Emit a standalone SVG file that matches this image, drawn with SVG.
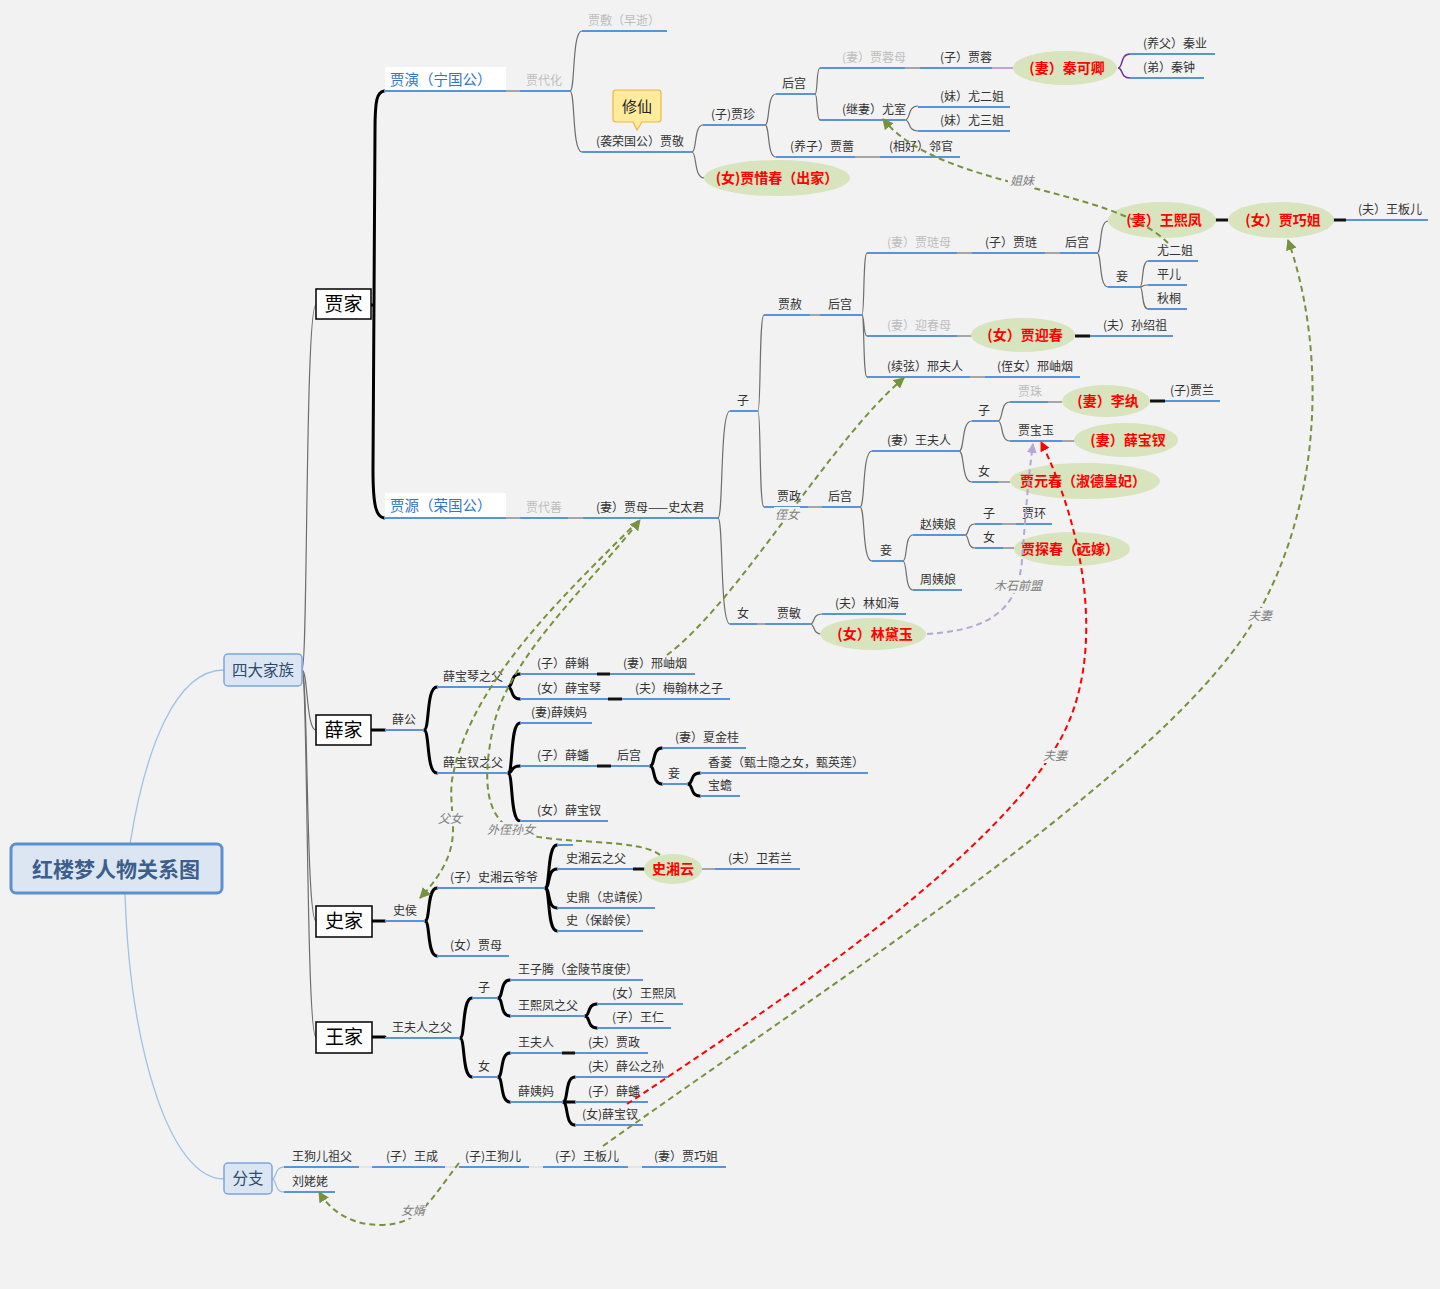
<svg xmlns="http://www.w3.org/2000/svg" width="1440" height="1289" viewBox="0 0 1440 1289">
<defs>
<style>
text{font-family:"Noto Sans CJK SC","Noto Sans",sans-serif;font-size:12px;fill:#333}
.g{fill:#bdbdbd}
.h{font-size:14.5px;fill:#2e75c8}
.r{font-size:14px;font-weight:bold;fill:#ff0000}
.fam{font-size:19px;fill:#000}
.lab{font-style:italic;fill:#808080}
.u{stroke:#5b93d9;stroke-width:2;fill:none}
.gl{stroke:#a6a6a6;stroke-width:2;fill:none}
.wl{stroke:#e4e4e4;stroke-width:2;fill:none}
.bk{stroke:#111;stroke-width:3;fill:none}
.c{stroke:#6e6e6e;stroke-width:1.2;fill:none}
.k{stroke:#000;stroke-width:3;fill:none;stroke-linecap:round}
.lbr{stroke:#9dc3e6;stroke-width:1.3;fill:none}
.e{fill:#d7e4bd}
.fb{fill:#fff;stroke:#000;stroke-width:1.5}
.dg{stroke:#76923c;stroke-width:2;stroke-dasharray:6 4;fill:none;marker-end:url(#ag)}
.dr{stroke:#ff0000;stroke-width:2;stroke-dasharray:6 4;fill:none;marker-end:url(#ar)}
.dp{stroke:#b4a7d6;stroke-width:2;stroke-dasharray:6 4;fill:none;marker-end:url(#ap)}
.lb{fill:#f2f2f2}
</style>
<marker id="ag" viewBox="0 0 10 10" refX="9" refY="5" markerWidth="11" markerHeight="11" markerUnits="userSpaceOnUse" orient="auto"><path d="M0,0 L10,5 L0,10 z" fill="#76923c"/></marker>
<marker id="ar" viewBox="0 0 10 10" refX="9" refY="5" markerWidth="10" markerHeight="10" markerUnits="userSpaceOnUse" orient="auto"><path d="M0,0 L10,5 L0,10 z" fill="#ff0000"/></marker>
<marker id="ap" viewBox="0 0 10 10" refX="9" refY="5" markerWidth="10" markerHeight="10" markerUnits="userSpaceOnUse" orient="auto"><path d="M0,0 L10,5 L0,10 z" fill="#b4a7d6"/></marker>
</defs>
<rect width="1440" height="1289" fill="#f2f2f2"/>

<g id="connectors">
<path class="lbr" d="M130,844 C145,750 175,670 224,670"/>
<path class="lbr" d="M125,893 C130,1050 170,1179 224,1179"/>
<path class="c" d="M302,670 C308,670 305,305 316,305"/>
<path class="c" d="M302,670 C308,670 306,730 316,730"/>
<path class="c" d="M302,670 C308,670 306,921 316,921"/>
<path class="c" d="M302,670 C308,670 306,1037 316,1037"/>
<path class="lbr" d="M272,1179 C277,1179 274,1167 284,1167 M272,1179 C277,1179 274,1192 284,1192"/>
<path class="k" d="M384,91 C377,92 375,100 375,130 L373,470 C373,505 376,517 384,518 M371,305 H374"/>
<path class="c" d="M570,91 C575.4,91 571.8,31 582,31 M570,91 C575.4,91 571.8,152 582,152"/>
<path class="c" d="M692,152 C697,152 693.7,125 703,125 M692,152 C697,152 693.7,178 704,178"/>
<path class="c" d="M765,125 C770,125 766.7,94 776,94 M765,125 C770,125 766.7,157 776,157"/>
<path class="c" d="M815,94 C818,94 816,68 820,68 M815,94 C818,94 816,120 820,120"/>
<path class="c" d="M905,120 C910.9,120 907,106 918,106 M905,120 C910.9,120 907,131 918,131"/>
<path d="M1118,68 C1123.4,68 1119.8,54 1130,54 M1118,68 C1123.4,68 1119.8,78 1130,78" stroke="#7030a0" stroke-width="1.5" fill="none"/>
<path class="c" d="M718,518 C723.4,518 719.8,411 730,411 M718,518 C723.4,518 719.8,624 730,624"/>
<path class="c" d="M758,411 C761,411 759,315 764,315 M758,411 C761,411 759,507 764,507"/>
<path class="c" d="M862,315 C864.5,315 863,253 867,253 M862,315 C864.5,315 863,336 867,336 M862,315 C864.5,315 863,377 867,377"/>
<path class="c" d="M1097,253 C1102,253 1098.7,221 1108,221 M1097,253 C1102,253 1098.7,287 1108,287"/>
<path class="c" d="M1140,287 C1143.6,287 1141.2,261 1148,261 M1140,287 C1143.6,287 1141.2,285 1148,285 M1140,287 C1143.6,287 1141.2,309 1148,309"/>
<path class="c" d="M860,507 C865.4,507 861.8,451 872,451 M860,507 C865.4,507 861.8,561 872,561"/>
<path class="c" d="M959,451 C964.9,451 961,421 972,421 M959,451 C964.9,451 961,482 972,482"/>
<path class="c" d="M998,421 C1003.4,421 999.8,402 1010,402 M998,421 C1003.4,421 999.8,441 1010,441"/>
<path class="c" d="M903,561 C907.5,561 904.5,535 913,535 M903,561 C907.5,561 904.5,590 913,590"/>
<path class="c" d="M965,535 C969.5,535 966.5,524 975,524 M965,535 C969.5,535 966.5,548 975,548"/>
<path class="c" d="M810,624 C815.4,624 811.8,614 822,614 M810,624 C815.4,624 811.8,634 822,634"/>
<path class="k" d="M371,730 H385 M372,921 H385 M372,1037 H385"/>
<path class="k" d="M424,730 C429.9,730 426,687 437,687 M424,730 C429.9,730 426,773 437,773"/>
<path class="k" d="M508,687 C513.4,687 509.8,674 520,674 M508,687 C513.4,687 509.8,699 520,699"/>
<path class="k" d="M508,773 C513.4,773 509.8,723 520,723 M508,773 C513.4,773 509.8,766 520,766 M508,773 C513.4,773 509.8,821 520,821"/>
<path class="k" d="M650,766 C655.4,766 651.8,748 662,748 M650,766 C655.4,766 651.8,784 662,784"/>
<path class="k" d="M688,784 C693.4,784 689.8,773 700,773 M688,784 C693.4,784 689.8,796 700,796"/>
<path class="k" d="M425,921 C430.4,921 426.8,888 437,888 M425,921 C430.4,921 426.8,956 437,956"/>
<path class="k" d="M545,888 C550.4,888 546.8,845 557,845 M545,888 C550.4,888 546.8,869 557,869 M545,888 C550.4,888 546.8,908 557,908 M545,888 C550.4,888 546.8,931 557,931"/>
<path class="k" d="M460,1038 C465.4,1038 461.8,998 472,998 M460,1038 C465.4,1038 461.8,1077 472,1077"/>
<path class="k" d="M498,998 C503.4,998 499.8,980 510,980 M498,998 C503.4,998 499.8,1016 510,1016"/>
<path class="k" d="M585,1016 C590.4,1016 586.8,1004 597,1004 M585,1016 C590.4,1016 586.8,1028 597,1028"/>
<path class="k" d="M498,1077 C503.4,1077 499.8,1053 510,1053 M498,1077 C503.4,1077 499.8,1102 510,1102"/>
<path class="k" d="M563,1102 C568.4,1102 564.8,1077 575,1077 M563,1102 C568.4,1102 564.8,1102 575,1102 M563,1102 C568.4,1102 564.8,1125 575,1125"/>
<path class="gl" d="M506,91 H520 M855,157 H880 M905,68 H920 M957,253 H972 M1045,253 H1060 M957,336 H972 M970,377 H985 M506,518 H520 M568,518 H583 M757,624 H765 M810,315 H820 M808,507 H822 M1048,402 H1062 M1062,441 H1076 M998,482 H1010 M1002,524 H1016 M1003,548 H1014 M702,869 H715"/>
<path d="M992,68 H1013" stroke="#c9a0dc" stroke-width="2"/>
<path class="bk" d="M1215,220 H1228 M1333,220 H1346 M1075,336 H1090 M1150,401 H1165 M597,674 H610 M608,699 H622 M597,766 H611 M633,869 H646 M562,1053 H575"/>
<path class="wl" d="M359,1167 H372 M445,1167 H459 M529,1167 H543 M628,1167 H642"/>
<path class="u" d="M557,845 H573"/>
</g>

<g id="root"><rect x="11" y="844" width="211" height="49" rx="5" fill="#dce6f2" stroke="#5b8fd0" stroke-width="3"/><text x="116" y="877" text-anchor="middle" style="font-size:21px;font-weight:bold;fill:#3b5e8c">红楼梦人物关系图</text></g>
<g id="sidajiazu"><rect x="224" y="654" width="78" height="32" rx="4" fill="#dce6f2" stroke="#7ea6dc" stroke-width="1.5"/><text x="263" y="676" text-anchor="middle" style="font-size:15.5px;fill:#2f4a6d">四大家族</text></g>
<g id="fenzhi"><rect x="224" y="1163" width="48" height="31" rx="4" fill="#dce6f2" stroke="#7ea6dc" stroke-width="1.5"/><text x="248" y="1184" text-anchor="middle" style="font-size:15.5px;fill:#2f4a6d">分支</text></g>

<g id="jiajia"><rect class="fb" x="316" y="289" width="55" height="30"/><text class="fam" x="343.5" y="311" text-anchor="middle">贾家</text></g>
<g id="xuejia"><rect class="fb" x="316" y="715" width="55" height="30"/><text class="fam" x="343.5" y="737" text-anchor="middle">薛家</text></g>
<g id="shijia"><rect class="fb" x="316" y="906" width="56" height="31"/><text class="fam" x="344" y="928" text-anchor="middle">史家</text></g>
<g id="wangjia"><rect class="fb" x="316" y="1022" width="56" height="31"/><text class="fam" x="344" y="1044" text-anchor="middle">王家</text></g>

<g id="jiayan"><rect x="385" y="67" width="121" height="24" fill="#fff"/><text class="h" x="390" y="85">贾演（宁国公）</text><path class="u" d="M384,91 H506" stroke-width="1.5"/></g>
<g id="jiafu"><text class="g" x="588" y="25">贾敷（早逝）</text><path class="u" d="M582,31 H667"/></g>
<g id="jiadaihua"><text class="g" x="526" y="85">贾代化</text><path class="u" d="M520,91 H570"/></g>
<g id="jiajing"><text x="596" y="146">(袭荣国公）贾敬</text><path class="u" d="M582,152 H692"/></g>
<g id="xiuxian"><path d="M616,90 H658 Q661,90 661,93 V119 Q661,122 658,122 H642 L637,130 L633,122 H616 Q613,122 613,119 V93 Q613,90 616,90 Z" fill="#ffeb9c" stroke="#f0b440" stroke-width="1.2"/><text x="637" y="112" text-anchor="middle" style="font-size:15px;fill:#222">修仙</text></g>
<g id="jiazhen"><text x="711" y="119">(子)贾珍</text><path class="u" d="M703,125 H765"/></g>
<g id="xichun"><ellipse class="e" cx="777" cy="178" rx="73" ry="18"/><text class="r" x="777" y="183" text-anchor="middle">(女)贾惜春（出家）</text></g>
<g id="hougong1"><text x="782" y="88">后宫</text><path class="u" d="M776,94 H815"/></g>
<g id="jiaqiang"><text x="790" y="151">(养子）贾蔷</text><path class="u" d="M776,157 H855"/></g>
<g id="lingguan"><text x="889" y="151">(相好）邻官</text><path class="u" d="M880,157 H960"/></g>
<g id="jiarongmu"><text class="g" x="842" y="62">(妻）贾蓉母</text><path class="u" d="M820,68 H905"/></g>
<g id="jiarong"><text x="940" y="62">(子）贾蓉</text><path class="u" d="M920,68 H992"/></g>
<g id="qinkeqing"><ellipse class="e" cx="1065" cy="68" rx="52" ry="17"/><text class="r" x="1067" y="73" text-anchor="middle">(妻）秦可卿</text></g>
<g id="qinye"><text x="1143" y="48">(养父）秦业</text><path class="u" d="M1130,54 H1215"/></g>
<g id="qinzhong"><text x="1143" y="72">(弟）秦钟</text><path class="u" d="M1130,78 H1204"/></g>
<g id="youshi"><text x="842" y="114">(继妻）尤室</text><path class="u" d="M820,120 H905"/></g>
<g id="youerjie1"><text x="940" y="101">(妹）尤二姐</text><path class="u" d="M918,107 H1010"/></g>
<g id="yousanjie"><text x="940" y="125">(妹）尤三姐</text><path class="u" d="M918,131 H1010"/></g>

<g id="jiayuan"><rect x="385" y="493" width="121" height="24" fill="#fff"/><text class="h" x="390" y="511">贾源（荣国公）</text><path class="u" d="M384,518 H506" stroke-width="1.5"/></g>
<g id="jiadaishan"><text class="g" x="526" y="512">贾代善</text><path class="u" d="M520,518 H568"/></g>
<g id="jiamu1"><text x="596" y="512">(妻）贾母——史太君</text><path class="u" d="M583,518 H718"/></g>
<g id="zi1"><text x="737" y="405">子</text><path class="u" d="M730,411 H758"/></g>
<g id="nv1"><text x="737" y="618">女</text><path class="u" d="M730,624 H757"/></g>
<g id="jiashe"><text x="778" y="309">贾赦</text><path class="u" d="M764,315 H810"/></g>
<g id="hougong2"><text x="828" y="309">后宫</text><path class="u" d="M820,315 H862"/></g>
<g id="jialianmu"><text class="g" x="887" y="247">(妻）贾琏母</text><path class="u" d="M867,253 H957"/></g>
<g id="jialian"><text x="985" y="247">(子）贾琏</text><path class="u" d="M972,253 H1045"/></g>
<g id="hougong3"><text x="1065" y="247">后宫</text><path class="u" d="M1060,253 H1097"/></g>
<g id="wangxifeng1"><ellipse class="e" cx="1162" cy="220" rx="54" ry="18"/><text class="r" x="1164" y="225" text-anchor="middle">(妻）王熙凤</text></g>
<g id="qiaojie1"><ellipse class="e" cx="1281" cy="220" rx="53" ry="18"/><text class="r" x="1283" y="225" text-anchor="middle">(女）贾巧姐</text></g>
<g id="wangbaner1"><text x="1358" y="214">(夫）王板儿</text><path class="u" d="M1346,220 H1428"/></g>
<g id="qie1"><text x="1116" y="281">妾</text><path class="u" d="M1108,287 H1140"/></g>
<g id="youerjie2"><text x="1157" y="255">尤二姐</text><path class="u" d="M1148,261 H1198"/></g>
<g id="pinger"><text x="1157" y="279">平儿</text><path class="u" d="M1148,285 H1187"/></g>
<g id="qiutong"><text x="1157" y="303">秋桐</text><path class="u" d="M1148,309 H1187"/></g>
<g id="yingchunmu"><text class="g" x="887" y="330">(妻）迎春母</text><path class="u" d="M867,336 H957"/></g>
<g id="yingchun"><ellipse class="e" cx="1023" cy="335" rx="52" ry="17"/><text class="r" x="1025" y="340" text-anchor="middle">(女）贾迎春</text></g>
<g id="sunshaozu"><text x="1103" y="330">(夫）孙绍祖</text><path class="u" d="M1090,336 H1173"/></g>
<g id="xingfuren"><text x="887" y="371">(续弦）邢夫人</text><path class="u" d="M867,377 H970"/></g>
<g id="xingxiuyan1"><text x="997" y="371">(侄女）邢岫烟</text><path class="u" d="M985,377 H1080"/></g>
<g id="jiazheng1"><text x="777" y="501">贾政</text><path class="u" d="M764,507 H808"/></g>
<g id="hougong4"><text x="828" y="501">后宫</text><path class="u" d="M822,507 H860"/></g>
<g id="wangfuren1"><text x="887" y="445">(妻）王夫人</text><path class="u" d="M872,451 H959"/></g>
<g id="zi2"><text x="978" y="415">子</text><path class="u" d="M972,421 H998"/></g>
<g id="jiazhu"><text class="g" x="1018" y="396">贾珠</text><path class="u" d="M1010,402 H1048"/></g>
<g id="liwan"><ellipse class="e" cx="1106" cy="401" rx="44" ry="16"/><text class="r" x="1108" y="406" text-anchor="middle">(妻）李纨</text></g>
<g id="jialan"><text x="1170" y="395">(子)贾兰</text><path class="u" d="M1165,401 H1220"/></g>
<g id="baoyu"><text x="1018" y="435">贾宝玉</text><path class="u" d="M1010,441 H1062"/></g>
<g id="baochai1"><ellipse class="e" cx="1126" cy="440" rx="52" ry="17"/><text class="r" x="1128" y="445" text-anchor="middle">(妻）薛宝钗</text></g>
<g id="nv2"><text x="978" y="476">女</text><path class="u" d="M972,482 H998"/></g>
<g id="yuanchun"><ellipse class="e" cx="1085" cy="481" rx="75" ry="18"/><text class="r" x="1083" y="486" text-anchor="middle">贾元春（淑德皇妃）</text></g>
<g id="qie2"><text x="880" y="555">妾</text><path class="u" d="M872,561 H903"/></g>
<g id="zhaoyiniang"><text x="920" y="529">赵姨娘</text><path class="u" d="M913,535 H965"/></g>
<g id="zi3"><text x="983" y="518">子</text><path class="u" d="M975,524 H1002"/></g>
<g id="jiahuan"><text x="1022" y="518">贾环</text><path class="u" d="M1016,524 H1052"/></g>
<g id="nv3"><text x="983" y="542">女</text><path class="u" d="M975,548 H1003"/></g>
<g id="tanchun"><ellipse class="e" cx="1072" cy="549" rx="58" ry="17"/><text class="r" x="1070" y="554" text-anchor="middle">贾探春（远嫁）</text></g>
<g id="zhouyiniang"><text x="920" y="584">周姨娘</text><path class="u" d="M913,590 H962"/></g>
<g id="jiamin"><text x="777" y="618">贾敏</text><path class="u" d="M765,624 H810"/></g>
<g id="linruhai"><text x="835" y="608">(夫）林如海</text><path class="u" d="M822,614 H906"/></g>
<g id="daiyu"><ellipse class="e" cx="873" cy="634" rx="53" ry="16"/><text class="r" x="875" y="639" text-anchor="middle">(女）林黛玉</text></g>

<g id="xuegong"><text x="392" y="724">薛公</text><path class="u" d="M385,730 H424"/></g>
<g id="baoqinfu"><text x="443" y="681">薛宝琴之父</text><path class="u" d="M437,687 H508"/></g>
<g id="baochaifu"><text x="443" y="767">薛宝钗之父</text><path class="u" d="M437,773 H508"/></g>
<g id="xueke"><text x="537" y="668">(子）薛蝌</text><path class="u" d="M520,674 H597"/></g>
<g id="xingxiuyan2"><text x="623" y="668">(妻）邢岫烟</text><path class="u" d="M610,674 H695"/></g>
<g id="baoqin"><text x="537" y="693">(女）薛宝琴</text><path class="u" d="M520,699 H608"/></g>
<g id="meihanlin"><text x="635" y="693">(夫）梅翰林之子</text><path class="u" d="M622,699 H730"/></g>
<g id="xueyima1"><text x="531" y="717">(妻)薛姨妈</text><path class="u" d="M520,723 H592"/></g>
<g id="xuepan1"><text x="537" y="760">(子）薛蟠</text><path class="u" d="M520,766 H597"/></g>
<g id="hougong5"><text x="617" y="760">后宫</text><path class="u" d="M611,766 H650"/></g>
<g id="xiajingui"><text x="675" y="742">(妻）夏金桂</text><path class="u" d="M662,748 H746"/></g>
<g id="qie3"><text x="668" y="778">妾</text><path class="u" d="M662,784 H688"/></g>
<g id="xiangling"><text x="708" y="767">香菱（甄士隐之女，甄英莲）</text><path class="u" d="M700,773 H868"/></g>
<g id="baochan"><text x="708" y="790">宝蟾</text><path class="u" d="M700,796 H740"/></g>
<g id="baochai2"><text x="537" y="815">(女）薛宝钗</text><path class="u" d="M520,821 H608"/></g>

<g id="shihou"><text x="393" y="915">史侯</text><path class="u" d="M385,921 H425"/></g>
<g id="shiyeye"><text x="450" y="882">(子）史湘云爷爷</text><path class="u" d="M437,888 H545"/></g>
<g id="shifu"><text x="566" y="863">史湘云之父</text><path class="u" d="M557,869 H633"/></g>
<g id="xiangyun"><ellipse class="e" cx="673" cy="869" rx="29" ry="15"/><text class="r" x="673" y="874" text-anchor="middle">史湘云</text></g>
<g id="weiruolan"><text x="728" y="863">(夫）卫若兰</text><path class="u" d="M715,869 H800"/></g>
<g id="shiding"><text x="566" y="902">史鼎（忠靖侯）</text><path class="u" d="M557,908 H655"/></g>
<g id="shibaoling"><text x="566" y="925">史（保龄侯）</text><path class="u" d="M557,931 H643"/></g>
<g id="jiamu2"><text x="450" y="950">(女）贾母</text><path class="u" d="M437,956 H509"/></g>

<g id="wangfurenfu"><text x="392" y="1032">王夫人之父</text><path class="u" d="M385,1038 H460"/></g>
<g id="zi4"><text x="478" y="992">子</text><path class="u" d="M472,998 H498"/></g>
<g id="wangziteng"><text x="518" y="974">王子腾（金陵节度使）</text><path class="u" d="M510,980 H643"/></g>
<g id="xifengfu"><text x="518" y="1010">王熙凤之父</text><path class="u" d="M510,1016 H585"/></g>
<g id="wangxifeng2"><text x="612" y="998">(女）王熙凤</text><path class="u" d="M597,1004 H683"/></g>
<g id="wangren"><text x="612" y="1022">(子）王仁</text><path class="u" d="M597,1028 H671"/></g>
<g id="nv4"><text x="478" y="1071">女</text><path class="u" d="M472,1077 H498"/></g>
<g id="wangfuren2"><text x="518" y="1047">王夫人</text><path class="u" d="M510,1053 H562"/></g>
<g id="jiazheng2"><text x="588" y="1047">(夫）贾政</text><path class="u" d="M575,1053 H648"/></g>
<g id="xueyima2"><text x="518" y="1096">薛姨妈</text><path class="u" d="M510,1102 H563"/></g>
<g id="xuegongsun"><text x="588" y="1071">(夫）薛公之孙</text><path class="u" d="M575,1077 H669"/></g>
<g id="xuepan2"><text x="588" y="1096">(子）薛蟠</text><path class="u" d="M575,1102 H648"/></g>
<g id="baochai3"><text x="582" y="1119">(女)薛宝钗</text><path class="u" d="M575,1125 H643"/></g>

<g id="gouerzufu"><text x="292" y="1161">王狗儿祖父</text><path class="u" d="M284,1167 H359"/></g>
<g id="wangcheng"><text x="386" y="1161">(子）王成</text><path class="u" d="M372,1167 H445"/></g>
<g id="wanggouer"><text x="465" y="1161">(子)王狗儿</text><path class="u" d="M459,1167 H529"/></g>
<g id="wangbaner2"><text x="555" y="1161">(子）王板儿</text><path class="u" d="M543,1167 H628"/></g>
<g id="qiaojie2"><text x="654" y="1161">(妻）贾巧姐</text><path class="u" d="M642,1167 H726"/></g>
<g id="liulaolao"><text x="292" y="1186">刘姥姥</text><path class="u" d="M284,1192 H335"/></g>

<g id="relations">
<path class="dg" d="M1168,243 C1110,185 940,190 883,119"/>
<path class="dg" d="M667,655 C740,600 830,440 904,378"/>
<path class="dg" d="M638,521 C570,590 470,680 452,780 C447,820 470,845 420,898"/>
<path class="dg" d="M660,855 C640,838 560,845 520,833 C480,820 485,770 492,733 C505,660 585,590 640,520"/>
<path class="dp" d="M927,634 C990,630 1018,610 1022,560 C1026,510 1028,480 1033,444"/>
<path class="dr" d="M627,1104 C800,990 1000,850 1060,740 C1110,650 1080,520 1041,442"/>
<path class="dg" d="M603,1146 C850,970 1180,760 1260,610 C1330,480 1320,330 1288,240"/>
<path class="dg" d="M459,1163 C430,1200 420,1225 380,1225 C350,1225 330,1210 319,1192"/>
<rect class="lb" x="1008" y="173" width="27" height="15"/><text class="lab" x="1010" y="185">姐妹</text>
<rect class="lb" x="774" y="507" width="26" height="15"/><text class="lab" x="775" y="519">侄女</text>
<rect class="lb" x="437" y="811" width="26" height="15"/><text class="lab" x="438" y="823">父女</text>
<rect class="lb" x="486" y="822" width="50" height="15"/><text class="lab" x="487" y="834">外侄孙女</text>
<rect class="lb" x="993" y="578" width="50" height="15"/><text class="lab" x="994" y="590">木石前盟</text>
<rect class="lb" x="1042" y="748" width="26" height="15"/><text class="lab" x="1043" y="760">夫妻</text>
<rect class="lb" x="1247" y="608" width="26" height="15"/><text class="lab" x="1248" y="620">夫妻</text>
<rect class="lb" x="400" y="1203" width="26" height="15"/><text class="lab" x="401" y="1215">女婿</text>
</g>
</svg>
